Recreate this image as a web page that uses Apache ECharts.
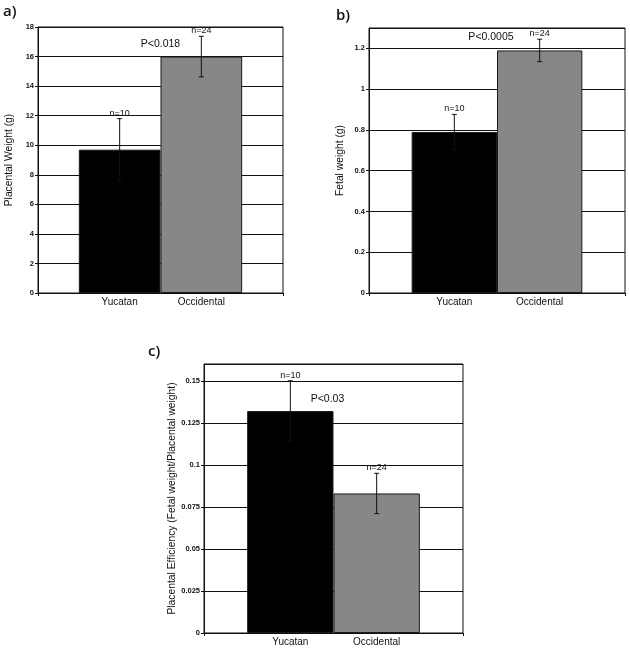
<!DOCTYPE html>
<html>
<head>
<meta charset="utf-8">
<script src="https://cdn.jsdelivr.net/npm/echarts@6/dist/echarts.min.js"></script>
<style>
  html, body { margin: 0; padding: 0; background: #fff; }
  #chart { width: 630px; height: 652px; }
</style>
</head>
<body>
<div id="chart"></div>
<script>
// ---------- data ----------
const categories = ['', 'Yucatan', 'Occidental', ''];
const groupIndex = [1, 2];
const placentalWeight = [9.7, 16.0];
const placentalWeightErr = [2.1, 1.37];
const fetalWeight = [0.79, 1.19];
const fetalWeightErr = [0.086, 0.055];
const efficiency = [0.132, 0.083];
const efficiencyErr = [0.018, 0.012];
const nLabels = ['n=10', 'n=24'];
const pLabels = ['P<0.018', 'P<0.0005', 'P<0.03'];
const pLevels = [16.83, 1.253, 0.139];
const panelLabels = ['a)', 'b)', 'c)'];
const yNames = ['Placental Weight (g)', 'Fetal weight (g)', 'Placental Efficiency (Fetal weight/Placental weight)'];
const yMax = [18, 1.3, 0.16];
const yInterval = [2, 0.2, 0.025];
const barColors = ['#000000', '#878787'];

const FONT = 'Liberation Sans, Arial, sans-serif';

const panels = [
  { vals: placentalWeight, errs: placentalWeightErr, grid: { left: 38, top: 27, width: 245, height: 266 }, pdx: 0 },
  { vals: fetalWeight, errs: fetalWeightErr, grid: { left: 369, top: 28, width: 256, height: 265 }, pdx: -6 },
  { vals: efficiency, errs: efficiencyErr, grid: { left: 204, top: 364, width: 259, height: 269 }, pdx: -6 }
];

const grids = [], xAxes = [], yAxes = [], series = [];
panels.forEach((p, k) => {
  grids.push(Object.assign({ show: true, borderColor: '#111', borderWidth: 1, backgroundColor: '#fff' }, p.grid));
  xAxes.push({
    type: 'category', gridIndex: k, data: categories, boundaryGap: false,
    axisLine: { show: true, lineStyle: { color: '#111', width: 1 } },
    axisTick: { show: true, length: 3, interval: (i) => i === 0 || i === categories.length - 1, lineStyle: { color: '#111' } },
    axisLabel: { interval: 0, fontFamily: FONT, fontSize: 10, color: '#111', margin: 4 },
    splitLine: { show: false }
  });
  yAxes.push({
    type: 'value', gridIndex: k, min: 0, max: yMax[k], interval: yInterval[k],
    name: yNames[k], nameLocation: 'middle', nameRotate: 90, nameGap: 24,
    nameTextStyle: { fontFamily: FONT, fontSize: 10.3, color: '#111' },
    axisLine: { show: true, lineStyle: { color: '#111', width: 1 } },
    axisTick: { show: true, length: 3, lineStyle: { color: '#111' } },
    axisLabel: { fontFamily: FONT, fontSize: 7.5, fontWeight: 'bold', color: '#111', margin: 4, showMaxLabel: k === 0 },
    splitLine: { show: true, lineStyle: { color: '#111', width: 1 } }
  });
  series.push({
    type: 'bar', xAxisIndex: k, yAxisIndex: k, barWidth: '100%',
    data: [null].concat(p.vals.map((v, i) => ({ value: v, itemStyle: { color: barColors[i] } }))).concat([null]),
    itemStyle: { borderColor: '#1a1a1a', borderWidth: 1 },
    z: 2
  });
  series.push({
    type: 'custom', xAxisIndex: k, yAxisIndex: k, z: 5,
    data: p.vals.map((v, i) => [groupIndex[i], v, p.errs[i]]),
    encode: { x: 0, y: 1 },
    renderItem: function (params, api) {
      const x = api.value(0), v = api.value(1), e = api.value(2);
      const top = api.coord([x, v + e]);
      const bot = api.coord([x, v - e]);
      const cw = 2.5;
      const st = { stroke: '#111', lineWidth: 1 };
      return {
        type: 'group',
        children: [
          { type: 'line', shape: { x1: top[0], y1: top[1], x2: bot[0], y2: bot[1] }, style: st },
          { type: 'line', shape: { x1: top[0] - cw, y1: top[1], x2: top[0] + cw, y2: top[1] }, style: st },
          { type: 'line', shape: { x1: bot[0] - cw, y1: bot[1], x2: bot[0] + cw, y2: bot[1] }, style: st },
          { type: 'text', style: { text: nLabels[params.dataIndex], x: top[0], y: top[1] - 1, textAlign: 'center', textVerticalAlign: 'bottom', fontFamily: FONT, fontSize: 9, fill: '#111' } }
        ]
      };
    }
  });
  series.push({
    type: 'custom', xAxisIndex: k, yAxisIndex: k, z: 5,
    data: [[groupIndex[0], pLevels[k]]],
    encode: { x: 0, y: 1 },
    renderItem: function (params, api) {
      const a = api.coord([groupIndex[0], api.value(1)]);
      const b = api.coord([groupIndex[1], api.value(1)]);
      return { type: 'text', style: { text: pLabels[k], x: (a[0] + b[0]) / 2 + p.pdx, y: a[1], textAlign: 'center', textVerticalAlign: 'middle', fontFamily: FONT, fontSize: 10.5, fill: '#111' } };
    }
  });
});

const titles = [
  { text: panelLabels[0], left: 3, top: 4 },
  { text: panelLabels[1], left: 336, top: 8 },
  { text: panelLabels[2], left: 148, top: 344 }
].map(t => Object.assign(t, { textStyle: { fontFamily: 'Open Sans, sans-serif', fontWeight: 600, fontSize: 15, color: '#111' }, padding: 0 }));

const chart = echarts.init(document.getElementById('chart'), null, { renderer: 'canvas' });
chart.setOption({
  animation: false,
  backgroundColor: '#fff',
  title: titles,
  grid: grids,
  xAxis: xAxes,
  yAxis: yAxes,
  series: series
});
</script>
</body>
</html>
